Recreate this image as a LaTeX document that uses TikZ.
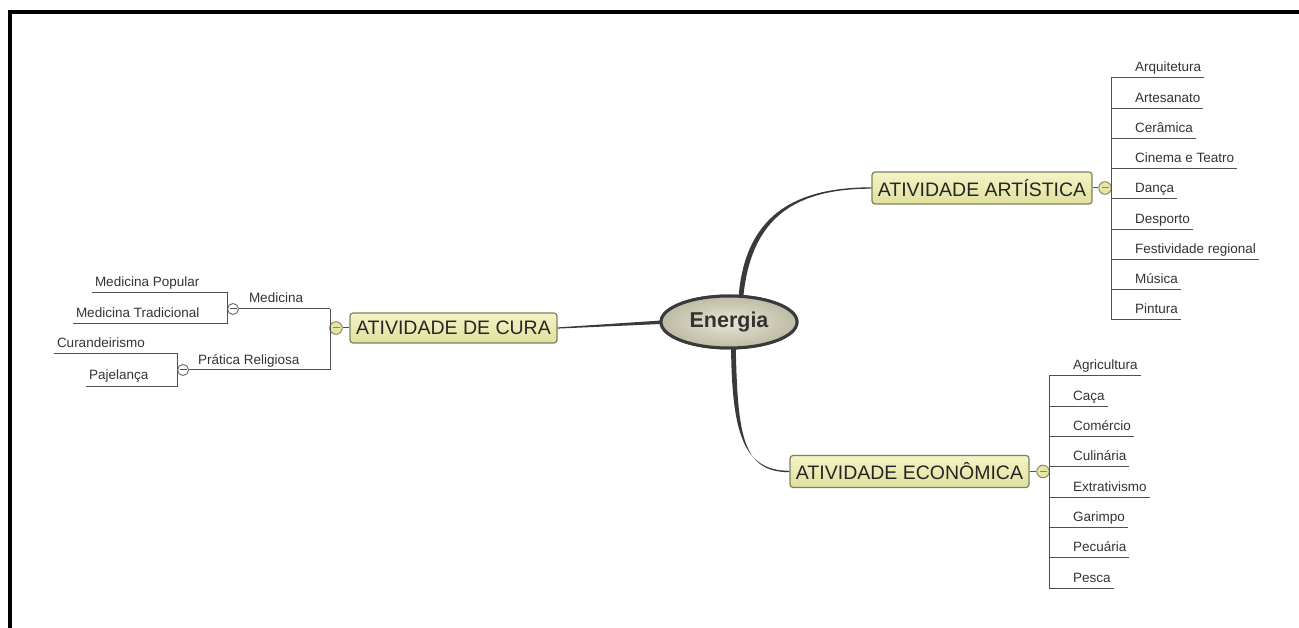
\documentclass[tikz,border=0pt]{standalone}
\usepackage{fontspec}
\setmainfont{Liberation Sans}
\usetikzlibrary{shapes.geometric,calc}
\definecolor{txt}{HTML}{333333}
\definecolor{boxline}{HTML}{7F7F60}
\definecolor{boxtop}{HTML}{F4F4C6}
\definecolor{boxbot}{HTML}{E0E09E}
\definecolor{conn}{HTML}{505050}
\definecolor{curvec}{HTML}{3A3A3A}
\definecolor{enin}{HTML}{E8E6D6}
\definecolor{enout}{HTML}{BDBBA4}
\definecolor{circline}{HTML}{8A8A62}
\definecolor{circfill}{HTML}{E6E6A6}
\begin{document}
\begin{tikzpicture}[x=1pt,y=-1pt,
  leaf/.style={anchor=south west, inner xsep=3pt, inner ysep=0pt, outer sep=0pt,
    text height=10pt, text depth=6pt, font=\fontsize{13.5}{16}\selectfont, text=txt},
  treeline/.style={draw=conn, line width=1pt},
  topic/.style={draw=boxline, line width=1.2pt, rounded corners=3pt,
    top color=boxtop, bottom color=boxbot, inner sep=0pt,
    font=\fontsize{19.5}{22}\selectfont, text=black!85},
  central/.style={ellipse, draw=curvec, line width=3pt, inner color=enin, outer color=enout,
    minimum width=136pt, minimum height=52pt, inner sep=0pt,
    font=\bfseries\fontsize{21.5}{24}\selectfont, text=txt},
  curvefill/.style={fill=curvec},
  collapseY/.style={circle, draw=circline, fill=circfill, line width=1pt, minimum size=12.5pt, inner sep=0pt,
    path picture={\draw[circline, line width=1pt] ([xshift=-3.5pt]path picture bounding box.center) -- ([xshift=3.5pt]path picture bounding box.center);}},
  collapseW/.style={circle, draw=conn!80, fill=white, line width=1pt, minimum size=11pt, inner sep=0pt,
    path picture={\draw[conn, line width=1pt] ([xshift=-3.5pt]path picture bounding box.center) -- ([xshift=3.5pt]path picture bounding box.center);}}
]
\useasboundingbox (0,0) rectangle (1299,628);
% frame
\draw[line width=4pt] (10,628) -- (10,12) -- (1299,12);

% ---------- main topics ----------
\node[central] (en) at (729,322) {};
\node[topic, minimum width=220pt, minimum height=32pt] (art) at (982,188) {ATIVIDADE ARTÍSTICA};
\node[topic, minimum width=207pt, minimum height=30pt] (cura) at (453.5,328) {ATIVIDADE DE CURA};
\node[topic, minimum width=239pt, minimum height=32pt] (eco) at (909.5,471.5) {ATIVIDADE ECONÔMICA};

% tapered connectors from the centre
\fill[curvefill] ($(en.center)+(9,-15)$) .. controls +(3,-85) and +(-85,0) .. ($(art.west)+(0,-0.7)$)
   -- ($(art.west)+(0,0.7)$) .. controls +(-83,0) and +(5,-84) .. ($(en.center)+(13.5,-15)$) -- cycle;
\fill[curvefill] ($(en.center)+(2,15)$) .. controls +(0,95) and +(-47,0) .. ($(eco.west)+(0,-0.7)$)
   -- ($(eco.west)+(0,0.7)$) .. controls +(-49,0) and +(2,95) .. ($(en.center)+(6.5,15)$) -- cycle;
\fill[curvefill] ($(cura.east)+(0,-0.6)$) -- ($(en.west)+(6,-1.8)$) -- ($(en.west)+(6,1.8)$) -- ($(cura.east)+(0,0.6)$) -- cycle;
\node[central] at (en.center) {Energia};

% ---------- ATIVIDADE ARTISTICA ----------
\node[collapseY] (cArt) at (1105,188) {};
\draw[treeline] (art.east) -- (cArt.west);
\coordinate (barArt) at (1111,0);
\node[leaf] (a1) at (1132,78)    {Arquitetura};
\node[leaf] (a2) at (1132,108.3) {Artesanato};
\node[leaf] (a3) at (1132,138.5) {Cerâmica};
\node[leaf] (a4) at (1132,168.8) {Cinema e Teatro};
\node[leaf] (a5) at (1132,199)   {Dança};
\node[leaf] (a6) at (1132,229.3) {Desporto};
\node[leaf] (a7) at (1132,259.5) {Festividade regional};
\node[leaf] (a8) at (1132,289.8) {Música};
\node[leaf] (a9) at (1132,320)   {Pintura};
\draw[treeline] (barArt |- a1.south) -- (barArt |- a9.south);
\foreach \n in {a1,a2,a3,a4,a5,a6,a7,a8,a9}
  \draw[treeline] (barArt |- \n.south) -- (\n.south east);

% ---------- ATIVIDADE ECONOMICA ----------
\node[collapseY] (cEco) at (1043,471.5) {};
\draw[treeline] (eco.east) -- (cEco.west);
\coordinate (barEco) at (1049,0);
\node[leaf] (e1) at (1070,376)   {Agricultura};
\node[leaf] (e2) at (1070,406.3) {Caça};
\node[leaf] (e3) at (1070,436.6) {Comércio};
\node[leaf] (e4) at (1070,466.9) {Culinária};
\node[leaf] (e5) at (1070,497.1) {Extrativismo};
\node[leaf] (e6) at (1070,527.4) {Garimpo};
\node[leaf] (e7) at (1070,557.7) {Pecuária};
\node[leaf] (e8) at (1070,588)   {Pesca};
\draw[treeline] (barEco |- e1.south) -- (barEco |- e8.south);
\foreach \n in {e1,e2,e3,e4,e5,e6,e7,e8}
  \draw[treeline] (barEco |- \n.south) -- (\n.south east);

% ---------- ATIVIDADE DE CURA ----------
\node[collapseY] (cCura) at (336,328) {};
\draw[treeline] (cCura.east) -- (cura.west);
\coordinate (barCura) at (330,0);
\node[leaf] (med) at (246,309) {Medicina};
\node[leaf] (rel) at (195,370) {Prática Religiosa};
\node[collapseW] (cMed) at (233,309) {};
\node[collapseW] (cRel) at (183,370) {};
\draw[treeline] (barCura |- med.south) -- (barCura |- rel.south);
\draw[treeline] (cMed.east) -- (barCura |- med.south);
\draw[treeline] (cRel.east) -- (barCura |- rel.south);

\coordinate (barMed) at (227.5,0);
\node[leaf] (m1) at (92,293) {Medicina Popular};
\node[leaf] (m2) at (73,324) {Medicina Tradicional};
\draw[treeline] (barMed |- m1.south) -- (barMed |- m2.south);
\draw[treeline] (m1.south west) -- (barMed |- m1.south);
\draw[treeline] (m2.south west) -- (barMed |- m2.south);

\coordinate (barRel) at (177.5,0);
\node[leaf] (r1) at (54,354) {Curandeirismo};
\node[leaf] (r2) at (86,386) {Pajelança};
\draw[treeline] (barRel |- r1.south) -- (barRel |- r2.south);
\draw[treeline] (r1.south west) -- (barRel |- r1.south);
\draw[treeline] (r2.south west) -- (barRel |- r2.south);
\end{tikzpicture}
\end{document}
